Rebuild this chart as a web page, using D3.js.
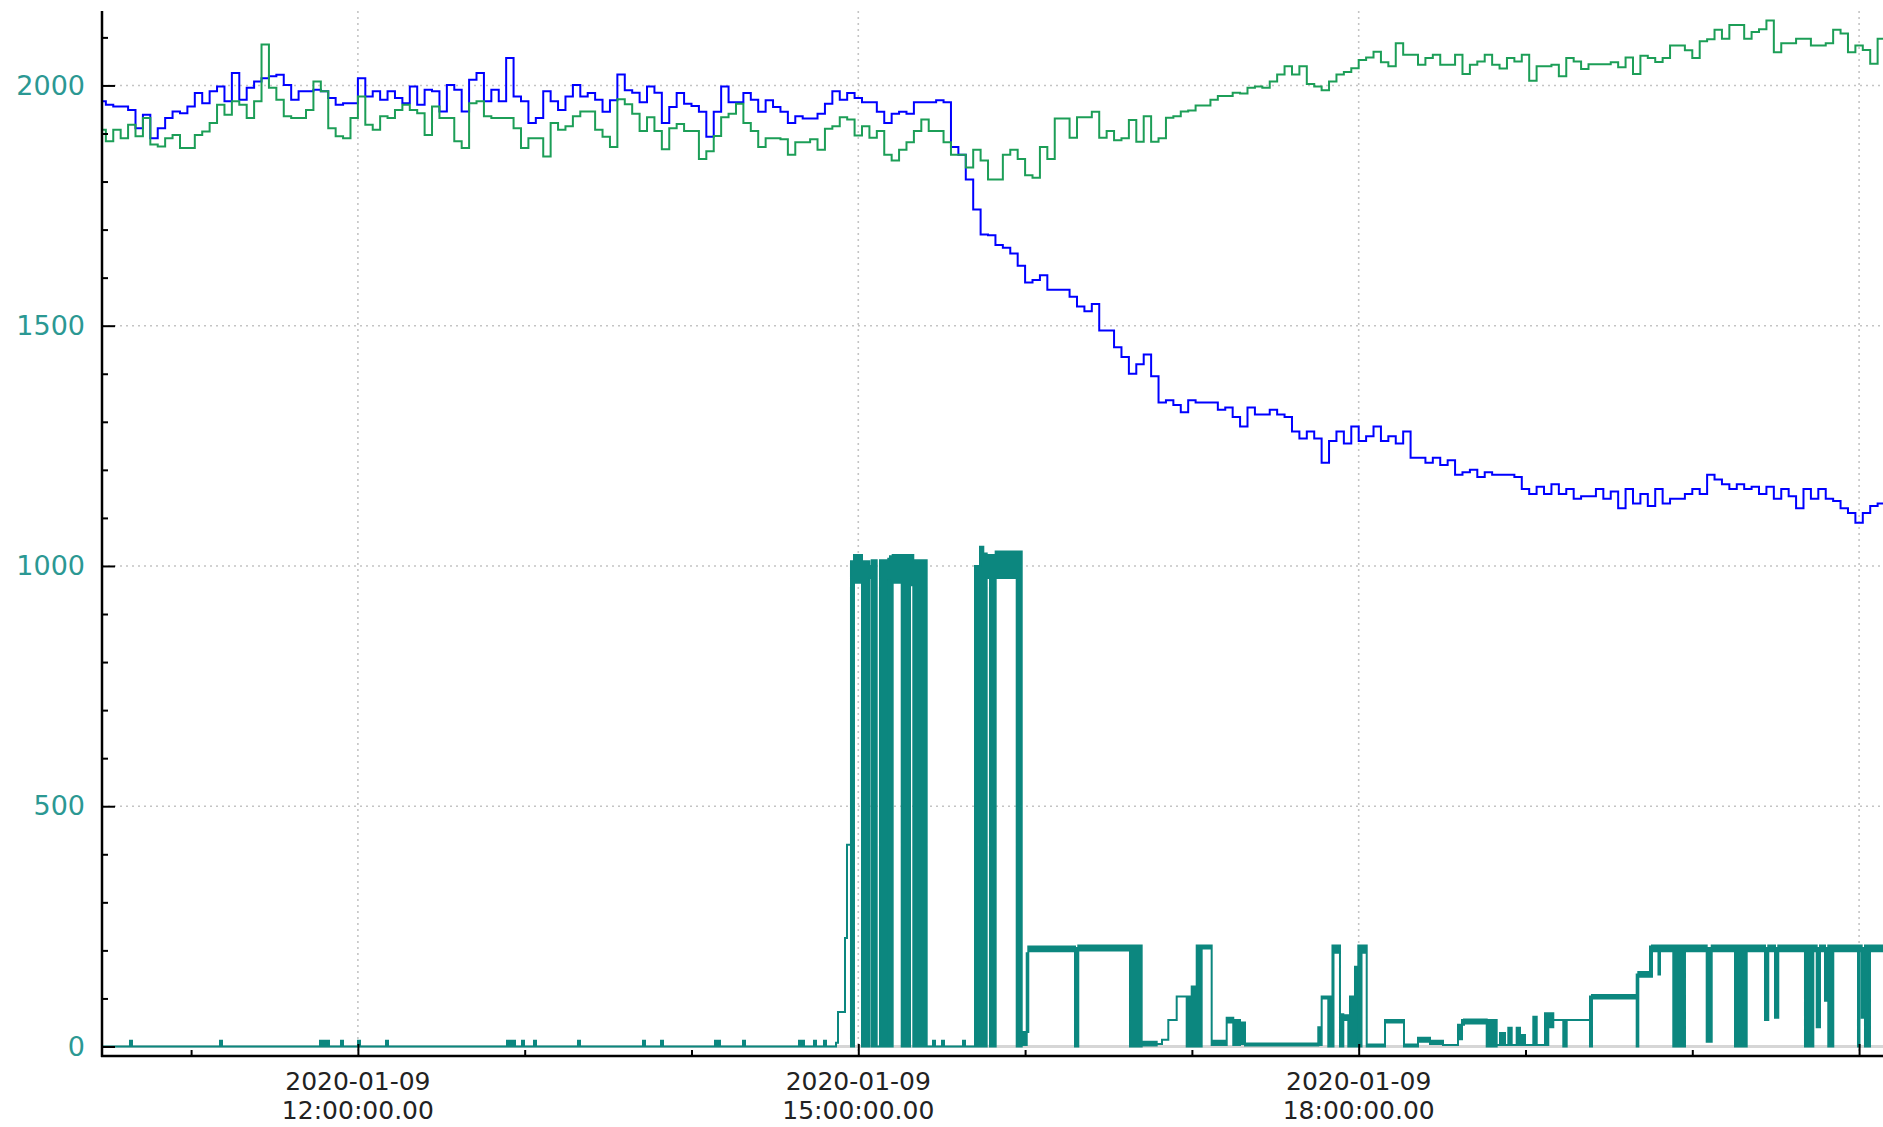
<!DOCTYPE html>
<html>
<head>
<meta charset="utf-8">
<script src="https://cdnjs.cloudflare.com/ajax/libs/d3/7.8.5/d3.min.js"></script>
<style>
  body { margin: 0; background: #ffffff; }
  svg { display: block; }
</style>
</head>
<body>
<div id="svg-container"></div>
<script>
// blue and green: one value every 160 s starting at stepStart
var day = "2020-01-09";
var stepStart = "10:26:40";
var stepSeconds = 160;

var blueValues = [
  1967, 1960, 1956, 1956, 1949, 1911, 1939, 1890, 1911, 1932,
  1946, 1942, 1956, 1984, 1963, 1988, 1998, 1967, 2026, 1970,
  1995, 2008, 2015, 2019, 2022, 2001, 1970, 1988, 1988, 1991,
  1988, 1974, 1960, 1963, 1963, 2015, 1977, 1988, 1970, 1988,
  1974, 1963, 1998, 1960, 1991, 1988, 1946, 2001, 1991, 1946,
  2012, 2026, 1967, 1991, 1967, 2057, 1977, 1967, 1922, 1932,
  1988, 1967, 1949, 1977, 2001, 1977, 1984, 1970, 1945, 1969,
  2023, 1990, 1985, 1965, 1998, 1985, 1922, 1955, 1984, 1962,
  1957, 1945, 1893, 1945, 1998, 1965, 1965, 1984, 1970, 1945,
  1969, 1955, 1945, 1922, 1936, 1931, 1931, 1941, 1962, 1988,
  1970, 1984, 1974, 1965, 1965, 1945, 1922, 1941, 1945, 1941,
  1965, 1965, 1965, 1969, 1965, 1872, 1856, 1804, 1742, 1690,
  1688, 1668, 1662, 1650, 1625, 1590, 1595, 1605, 1575, 1575,
  1575, 1560, 1540, 1530, 1545, 1490, 1490, 1455, 1435, 1400,
  1420, 1440, 1395, 1340, 1345, 1335, 1320, 1345, 1340, 1340,
  1340, 1325, 1330, 1310, 1290, 1330, 1315, 1315, 1325, 1315,
  1310, 1280, 1265, 1280, 1265, 1215, 1260, 1280, 1255, 1290,
  1260, 1270, 1290, 1260, 1270, 1255, 1280, 1225, 1225, 1215,
  1225, 1210, 1220, 1190, 1195, 1200, 1185, 1195, 1190, 1190,
  1190, 1185, 1160, 1150, 1165, 1150, 1170, 1150, 1160, 1140,
  1145, 1145, 1160, 1140, 1155, 1120, 1160, 1130, 1150, 1125,
  1160, 1130, 1140, 1140, 1150, 1160, 1150, 1190, 1180, 1170,
  1160, 1170, 1160, 1165, 1150, 1165, 1140, 1160, 1145, 1120,
  1160, 1140, 1160, 1140, 1135, 1120, 1110, 1090, 1110, 1125, 1130
];

var greenValues = [
  1908, 1884, 1908, 1890, 1918, 1894, 1932, 1877, 1873, 1890,
  1897, 1870, 1870, 1897, 1904, 1922, 1960, 1939, 1967, 1960,
  1932, 1967, 2085, 1995, 1970, 1936, 1932, 1932, 1949, 2008,
  1988, 1911, 1894, 1890, 1932, 1977, 1918, 1908, 1936, 1932,
  1949, 1960, 1949, 1942, 1897, 1956, 1932, 1932, 1884, 1870,
  1963, 1967, 1936, 1932, 1932, 1932, 1911, 1870, 1890, 1890,
  1852, 1922, 1908, 1915, 1936, 1946, 1946, 1908, 1893, 1872,
  1971, 1961, 1941, 1905, 1934, 1905, 1867, 1911, 1920, 1905,
  1905, 1847, 1863, 1895, 1934, 1941, 1962, 1922, 1905, 1872,
  1890, 1890, 1888, 1856, 1882, 1882, 1888, 1866, 1910, 1915,
  1934, 1929, 1896, 1915, 1891, 1905, 1856, 1844, 1866, 1882,
  1905, 1929, 1905, 1905, 1882, 1856, 1856, 1829, 1866, 1844,
  1804, 1804, 1856, 1866, 1847, 1813, 1808, 1872, 1847, 1931,
  1931, 1891, 1934, 1934, 1945, 1891, 1905, 1886, 1890, 1928,
  1883, 1936, 1883, 1890, 1933, 1936, 1946, 1948, 1958, 1958,
  1970, 1978, 1978, 1985, 1983, 1995, 1998, 1995, 2008, 2023,
  2040, 2023, 2040, 2003, 1998, 1990, 2008, 2023, 2028, 2036,
  2053, 2058, 2070, 2048, 2040, 2088, 2064, 2064, 2043, 2057,
  2064, 2043, 2043, 2064, 2024, 2043, 2050, 2064, 2043, 2035,
  2057, 2050, 2064, 2010, 2040, 2040, 2043, 2019, 2057, 2050,
  2034, 2044, 2044, 2044, 2048, 2038, 2058, 2024, 2062, 2057,
  2049, 2057, 2083, 2083, 2073, 2057, 2092, 2096, 2116, 2097,
  2126, 2126, 2097, 2111, 2117, 2135, 2069, 2088, 2088, 2097,
  2097, 2083, 2083, 2088, 2116, 2108, 2069, 2083, 2074, 2045, 2097
];

// teal: fast signal, kept as runs (start time, min and max inside the run)
var tealTimes = [
  "10:26:00", "10:38:01", "10:38:44", "11:10:24", "11:11:07", "11:46:22", "11:49:36", "11:53:55", "11:54:38", "12:00:02",
  "12:00:45", "12:10:07", "12:10:50", "12:53:38", "12:56:31", "12:59:02", "12:59:45", "13:03:21", "13:04:04", "13:19:10",
  "13:19:53", "13:42:33", "13:43:16", "13:49:02", "13:49:45", "14:08:27", "14:10:15", "14:18:32", "14:19:15", "14:38:40",
  "14:40:28", "14:44:04", "14:44:47", "14:47:40", "14:48:23", "14:51:59", "14:52:42", "14:55:13", "14:55:56", "14:57:22",
  "14:58:27", "15:01:20", "15:03:58", "15:04:49", "15:06:37", "15:07:48", "15:10:47", "15:11:24", "15:12:22", "15:15:37",
  "15:18:36", "15:19:47", "15:24:36", "15:26:52", "15:27:35", "15:30:07", "15:30:50", "15:37:40", "15:38:23", "15:41:59",
  "15:43:47", "15:44:58", "15:46:11", "15:47:22", "15:49:25", "15:56:59", "15:58:47", "16:00:35", "16:01:09", "16:17:57",
  "16:19:08", "16:37:44", "16:41:56", "16:47:20", "16:49:15", "16:51:31", "16:54:32", "16:58:08", "16:59:56", "17:01:44",
  "17:03:31", "17:07:07", "17:12:31", "17:14:53", "17:17:18", "17:19:06", "17:45:28", "17:46:41", "17:49:04", "17:50:34",
  "17:50:56", "17:53:16", "17:54:28", "17:56:16", "17:56:52", "17:58:40", "17:59:52", "18:00:28", "18:01:01", "18:02:53",
  "18:09:28", "18:16:18", "18:21:20", "18:25:39", "18:30:20", "18:35:43", "18:37:10", "18:37:53", "18:46:03", "18:49:38",
  "18:50:50", "18:52:38", "18:53:49", "18:55:02", "18:56:50", "18:58:01", "18:59:49", "19:02:49", "19:04:02", "19:07:01",
  "19:08:12", "19:10:00", "19:13:36", "19:14:49", "19:23:12", "19:23:55", "19:40:00", "19:40:35", "19:44:47", "19:45:30",
  "19:47:50", "19:48:23", "19:53:10", "19:57:22", "20:05:11", "20:06:59", "20:15:22", "20:19:34", "20:26:09", "20:27:20",
  "20:29:45", "20:30:56", "20:40:32", "20:43:32", "20:44:45", "20:45:56", "20:47:44", "20:48:55", "20:50:43", "20:59:36",
  "21:00:08", "21:00:56", "21:02:07", "21:03:55", "21:12:00"
];
var tealLo = [
  0, 0, 0, 0, 0, 0, 0, 0, 0, 0,
  0, 0, 0, 0, 0, 0, 0, 0, 0, 0,
  0, 0, 0, 0, 0, 0, 0, 0, 0, 0,
  0, 0, 0, 0, 0, 8, 72, 226, 420, 0,
  965, 0, 975, 0, 0, 0, 970, 0, 965, 0,
  960, 0, 0, 0, 0, 0, 0, 0, 0, 0,
  0, 0, 975, 0, 975, 0, 3, 30, 198, 0,
  200, 0, 2, 5, 14, 55, 104, 0, 0, 0,
  204, 3, 50, 3, 5, 2, 3, 100, 0, 0,
  195, 0, 55, 0, 0, 0, 195, 0, 195, 0,
  50, 0, 10, 5, 3, 15, 45, 48, 0, 3,
  3, 3, 3, 3, 3, 3, 3, 3, 3, 3,
  40, 55, 0, 55, 0, 100, 0, 145, 145, 198,
  150, 198, 0, 198, 10, 198, 0, 198, 55, 198,
  60, 198, 0, 198, 40, 198, 95, 0, 198, 0,
  198, 60, 0, 198
];
var tealHi = [
  0, 12, 0, 12, 0, 12, 0, 12, 0, 12,
  0, 12, 0, 12, 0, 12, 0, 12, 0, 12,
  0, 12, 0, 12, 0, 12, 0, 12, 0, 12,
  0, 12, 0, 12, 0, 8, 72, 226, 420, 1010,
  1023, 1010, 1000, 1012, 0, 1012, 1015, 1020, 1023, 1023,
  1023, 1012, 0, 12, 0, 12, 0, 12, 0, 1000,
  1040, 1026, 1023, 1023, 1030, 1030, 30, 194, 208, 205,
  210, 210, 10, 5, 14, 55, 104, 104, 125, 210,
  210, 12, 60, 55, 50, 6, 40, 104, 104, 210,
  210, 67, 65, 65, 104, 166, 210, 210, 210, 4,
  55, 4, 18, 12, 3, 45, 55, 56, 55, 3,
  28, 3, 39, 3, 39, 24, 3, 62, 3, 69,
  69, 55, 55, 55, 104, 107, 150, 155, 208, 210,
  205, 210, 210, 210, 205, 210, 210, 210, 205, 210,
  205, 210, 210, 210, 205, 210, 205, 210, 210, 205,
  210, 205, 210, 210
];

var yTicks = [0, 500, 1000, 1500, 2000];
var xTicks = ["12:00:00", "15:00:00", "18:00:00", "21:00:00"];

// size of the picture and of the plot box
var width = 1883, height = 1127;
var plot = {left: 102, top: 11, right: 1883, bottom: 1056};

var parse = d3.timeParse("%Y-%m-%d %H:%M:%S");
var at = function(s) { return parse(day + " " + s); };

var x = d3.scaleTime()
  .domain([at("10:27:57"), at("21:08:36")])
  .range([plot.left, plot.right]);
var y = d3.scaleLinear()
  .domain([-19.8, 2154.9])
  .range([plot.bottom, plot.top]);

var svg = d3.select("#svg-container")
  .append("svg")
  .attr("width", width)
  .attr("height", height)
  .style("font-family", "'DejaVu Sans', sans-serif");

svg.append("defs").append("clipPath").attr("id", "clip")
  .append("rect")
  .attr("x", plot.left).attr("y", plot.top)
  .attr("width", plot.right - plot.left).attr("height", plot.bottom - plot.top);

// dotted grid at the major ticks
var grid = svg.append("g").attr("stroke", "#c4c4c4").attr("stroke-width", 1.6)
  .attr("stroke-dasharray", "2,4");
grid.selectAll(".hg")
  .data(yTicks.filter(function(d) { return d > 0; }))
  .enter().append("line")
  .attr("x1", plot.left).attr("x2", plot.right)
  .attr("y1", function(d) { return y(d); }).attr("y2", function(d) { return y(d); });
grid.selectAll(".vg")
  .data(xTicks)
  .enter().append("line")
  .attr("x1", function(d) { return x(at(d)); }).attr("x2", function(d) { return x(at(d)); })
  .attr("y1", plot.top).attr("y2", plot.bottom);

// zero line
svg.append("line")
  .attr("x1", plot.left).attr("x2", plot.right)
  .attr("y1", y(0)).attr("y2", y(0))
  .attr("stroke", "#d6d6d6").attr("stroke-width", 3);

var lines = svg.append("g").attr("clip-path", "url(#clip)");

// teal runs: filled between min and max so dense toggling reads as solid blocks
var tealData = tealTimes.map(function(s, i) {
  var j = Math.min(i, tealLo.length - 1);
  return {t: at(s), lo: tealLo[j], hi: tealHi[j]};
});
var tealArea = d3.area()
  .curve(d3.curveStepAfter)
  .x(function(d) { return x(d.t); })
  .y0(function(d) { return y(d.lo); })
  .y1(function(d) { return y(d.hi); });
lines.append("path")
  .datum(tealData)
  .attr("d", tealArea)
  .attr("fill", "#0c877f")
  .attr("stroke", "#0c877f")
  .attr("stroke-width", 2)
  .attr("stroke-linejoin", "miter");

// step series
var t0 = at(stepStart);
function steps(values) {
  var pts = values.map(function(v, i) {
    return {t: new Date(t0.getTime() + i * stepSeconds * 1000), v: v};
  });
  pts.push({t: new Date(t0.getTime() + values.length * stepSeconds * 1000), v: values[values.length - 1]});
  return pts;
}
var stepLine = d3.line()
  .curve(d3.curveStepAfter)
  .x(function(d) { return x(d.t); })
  .y(function(d) { return y(d.v); });

lines.append("path")
  .datum(steps(blueValues))
  .attr("d", stepLine)
  .attr("fill", "none")
  .attr("stroke", "#0000ff")
  .attr("stroke-width", 2);

lines.append("path")
  .datum(steps(greenValues))
  .attr("d", stepLine)
  .attr("fill", "none")
  .attr("stroke", "#1c9e57")
  .attr("stroke-width", 2);

// left axis: ticks point into the plot
var yMinor = d3.range(0, 2200, 100).filter(function(d) { return yTicks.indexOf(d) < 0; });
var yAxisMinor = svg.append("g")
  .attr("transform", "translate(" + plot.left + ",0)")
  .call(d3.axisLeft(y).tickValues(yMinor).tickSizeInner(-6).tickSizeOuter(0).tickFormat(""));
yAxisMinor.select(".domain").remove();

var yAxis = svg.append("g")
  .attr("transform", "translate(" + plot.left + ",0)")
  .call(d3.axisLeft(y).tickValues(yTicks).tickSizeInner(-13).tickSizeOuter(0)
    .tickPadding(17).tickFormat(d3.format("d")));
yAxis.select(".domain").remove();
yAxis.selectAll("text")
  .attr("font-size", 27)
  .attr("font-family", "'DejaVu Sans', sans-serif")
  .attr("fill", "#2b9893");

// bottom axis
var xMinor = d3.timeHour.every(1).range(at("10:30:00"), at("21:08:00"))
  .filter(function(d) { return d.getHours() % 3 !== 0; });
var xAxisMinor = svg.append("g")
  .attr("transform", "translate(0," + plot.bottom + ")")
  .call(d3.axisBottom(x).tickValues(xMinor).tickSizeInner(-6).tickSizeOuter(0).tickFormat(""));
xAxisMinor.select(".domain").remove();

var xAxis = svg.append("g")
  .attr("transform", "translate(0," + plot.bottom + ")")
  .call(d3.axisBottom(x).tickValues(xTicks.map(at)).tickSizeInner(-12).tickSizeOuter(0).tickFormat(""));
xAxis.select(".domain").remove();

svg.selectAll(".tick line").attr("stroke", "#000").attr("stroke-width", 2);

// two line time labels, skipped when they would run off the right edge
var fmtDate = d3.timeFormat("%Y-%m-%d"), fmtTime = d3.timeFormat("%H:%M:%S.00");
var labels = svg.append("g")
  .attr("font-size", 25)
  .attr("fill", "#222")
  .attr("text-anchor", "middle");
xTicks.map(at).filter(function(d) { return x(d) + 80 < width; }).forEach(function(d) {
  var t = labels.append("text").attr("x", x(d));
  t.append("tspan").attr("x", x(d)).attr("y", 1090).text(fmtDate(d));
  t.append("tspan").attr("x", x(d)).attr("y", 1119).text(fmtTime(d));
});

// axis lines
svg.append("line")
  .attr("x1", plot.left).attr("x2", plot.left)
  .attr("y1", plot.top).attr("y2", plot.bottom + 1)
  .attr("stroke", "#000").attr("stroke-width", 2.5);
svg.append("line")
  .attr("x1", plot.left - 1).attr("x2", plot.right)
  .attr("y1", plot.bottom).attr("y2", plot.bottom)
  .attr("stroke", "#000").attr("stroke-width", 2.5);
</script>
</body>
</html>
